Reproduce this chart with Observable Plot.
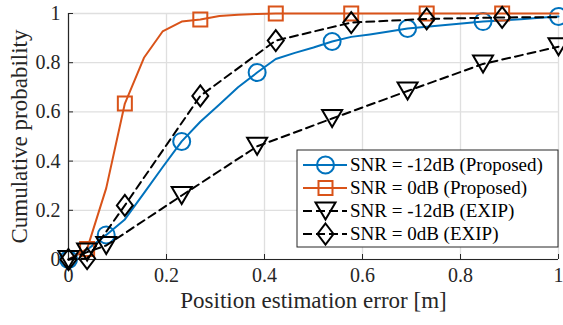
<!DOCTYPE html>
<html><head><meta charset="utf-8">
<script src="https://cdn.jsdelivr.net/npm/d3@7"></script>
<script src="https://cdn.jsdelivr.net/npm/@observablehq/plot@0.6"></script>
<style>
html,body{margin:0;padding:0;background:#fff}
svg{display:block;font-family:"Liberation Serif",serif}
</style>
</head><body><div id="chart"></div>
<script>
// ---- data ----
const xTicks = [0, 0.2, 0.4, 0.6, 0.8, 1];
const yTicks = [0, 0.2, 0.4, 0.6, 0.8, 1];
const xTickLabels = ["0", "0.2", "0.4", "0.6", "0.8", "1"];
const yTickLabels = ["0", "0.2", "0.4", "0.6", "0.8", "1"];
const seriesNames = ["SNR = -12dB (Proposed)", "SNR = 0dB (Proposed)", "SNR = -12dB (EXIP)", "SNR = 0dB (EXIP)"];

// proposed method: error grid
const errGrid = [0, 0.038, 0.077, 0.115, 0.154, 0.192, 0.231, 0.269, 0.308, 0.346, 0.385, 0.423, 0.462, 0.5, 0.538, 0.577, 0.615, 0.654, 0.692, 0.731, 0.769, 0.808, 0.846, 0.885, 0.923, 0.962, 1];
const propM12 = [0, 0.04, 0.10, 0.163, 0.27, 0.375, 0.48, 0.56, 0.63, 0.70, 0.76, 0.815, 0.84, 0.862, 0.886, 0.905, 0.915, 0.927, 0.939, 0.946, 0.953, 0.96, 0.967, 0.972, 0.977, 0.983, 0.988];
const prop0 = [0, 0.043, 0.29, 0.634, 0.82, 0.927, 0.967, 0.976, 0.99, 0.995, 0.998, 1, 1, 1, 1, 1, 1, 1, 1, 1, 1, 1, 1, 1, 1, 1, 1];
const propM12Markers = [0, 2, 6, 10, 14, 18, 22, 26];
const prop0Markers = [1, 3, 7, 11, 15, 19, 23];

// EXIP
const exipM12X = [0, 0.038, 0.077, 0.231, 0.385, 0.538, 0.692, 0.846, 1];
const exipM12Y = [0, 0.03, 0.057, 0.26, 0.46, 0.573, 0.685, 0.795, 0.865];
const exipM12Markers = [0, 1, 2, 3, 4, 5, 6, 7, 8];
const exip0X = [0, 0.038, 0.115, 0.269, 0.423, 0.577, 0.731, 0.885, 1];
const exip0Y = [0, 0.004, 0.22, 0.665, 0.89, 0.963, 0.978, 0.984, 0.985];
const exip0Markers = [0, 1, 2, 3, 4, 5, 6, 7];

// ---- styles ----
const BLUE = "#0072BD", ORANGE = "#D95319", BLACK = "#000000", AXIS = "#262626", GRID = "#dfdfdf";
const FONT = "Liberation Serif";
const symCircle = {draw(c){ c.moveTo(8.5,0); c.arc(0,0,8.5,0,2*Math.PI); c.closePath(); }};
const symSquare = {draw(c){ c.moveTo(-7,-7); c.lineTo(7,-7); c.lineTo(7,7); c.lineTo(-7,7); c.closePath(); }};
const symTriDown = {draw(c){ c.moveTo(-10,-8.5); c.lineTo(10,-8.5); c.lineTo(0,8.5); c.closePath(); }};
const symDiamond = {draw(c){ c.moveTo(0,-10.5); c.lineTo(8,0); c.lineTo(0,10.5); c.lineTo(-8,0); c.closePath(); }};

const toPts = (xs, ys) => xs.map((x, i) => ({x, y: ys[i]}));
const blue = toPts(errGrid, propM12);
const orange = toPts(errGrid, prop0);
const tri = toPts(exipM12X, exipM12Y);
const dia = toPts(exip0X, exip0Y);

const W = 563, H = 325, mL = 68, mR = 5, mT = 13, mB = 66;
const pw = W - mL - mR, ph = H - mT - mB;

const series = [
  {data: blue, markers: propM12Markers.map(i => blue[i]), stroke: BLUE, dash: null, sym: symCircle},
  {data: orange, markers: prop0Markers.map(i => orange[i]), stroke: ORANGE, dash: null, sym: symSquare},
  {data: tri, markers: exipM12Markers.map(i => tri[i]), stroke: BLACK, dash: "8,5", sym: symTriDown},
  {data: dia, markers: exip0Markers.map(i => dia[i]), stroke: BLACK, dash: "8,5", sym: symDiamond}
];

const marks = [
  Plot.gridX({ticks: xTicks, stroke: GRID, strokeOpacity: 1, strokeWidth: 1.3}),
  Plot.gridY({ticks: yTicks, stroke: GRID, strokeOpacity: 1, strokeWidth: 1.3}),
  Plot.tickX(xTicks, {x: d => d, insetTop: ph - 5, stroke: AXIS, strokeWidth: 1}),
  Plot.tickY(yTicks, {y: d => d, insetRight: pw - 5, stroke: AXIS, strokeWidth: 1}),
  Plot.ruleX([0], {stroke: AXIS, strokeWidth: 1.2}),
  Plot.ruleY([0], {stroke: AXIS, strokeWidth: 1.2}),
  Plot.text(xTicks, {x: d => d, frameAnchor: "bottom", dy: 22, text: (d, i) => xTickLabels[i], fontSize: 20, fontFamily: FONT, fill: AXIS, textAnchor: "middle"}),
  Plot.text(yTicks, {y: d => d, frameAnchor: "left", dx: -8, text: (d, i) => yTickLabels[i], fontSize: 20, fontFamily: FONT, fill: AXIS, textAnchor: "end"}),
  Plot.text(["Position estimation error [m]"], {frameAnchor: "bottom", dy: 48.6, text: d => d, fontSize: 23, fontFamily: FONT, fill: AXIS, textAnchor: "middle"}),
  Plot.text(["Cumulative probability"], {frameAnchor: "left", dx: -48.4, rotate: -90, text: d => d, fontSize: 23, fontFamily: FONT, fill: AXIS, textAnchor: "middle"})
];
for (const s of series) {
  marks.push(Plot.line(s.data, {x: "x", y: "y", stroke: s.stroke, strokeWidth: 2, strokeDasharray: s.dash, curve: "linear"}));
  marks.push(Plot.dot(s.markers, {x: "x", y: "y", symbol: s.sym, stroke: s.stroke, fill: "none", strokeWidth: 2, strokeLinejoin: "miter"}));
}

const chart = Plot.plot({
  width: W, height: H,
  marginLeft: mL, marginRight: mR, marginTop: mT, marginBottom: mB,
  x: {domain: [0, 1], axis: null},
  y: {domain: [0, 1], axis: null},
  style: {fontFamily: FONT, background: "#fff", overflow: "visible"},
  marks
});
document.getElementById("chart").appendChild(chart);

// ---- legend (inside axes, lower right) ----
const svg = d3.select(chart);
const lg = svg.append("g").attr("text-anchor", "start");
const bx = 297, by = 150, bw = 261, bh = 97;
lg.append("rect").attr("x", bx).attr("y", by).attr("width", bw).attr("height", bh)
  .attr("fill", "#fff").attr("stroke", AXIS).attr("stroke-width", 1);
const rowY = [165, 188, 211, 234];
series.forEach((s, i) => {
  const y = rowY[i];
  lg.append("line").attr("x1", 303).attr("x2", 347).attr("y1", y).attr("y2", y)
    .attr("stroke", s.stroke).attr("stroke-width", 2)
    .attr("stroke-dasharray", s.dash ? "9,4" : null);
  const p = d3.path(); s.sym.draw(p);
  lg.append("path").attr("d", p.toString()).attr("transform", `translate(325.5,${y})`)
    .attr("fill", "none").attr("stroke", s.stroke).attr("stroke-width", 2).attr("stroke-linejoin", "miter");
  lg.append("text").attr("x", 350).attr("y", y + 5.5).attr("font-size", 19)
    .attr("text-anchor", "start")
    .attr("font-family", FONT).attr("fill", "#000").text(seriesNames[i]);
});
</script>
</body></html>
